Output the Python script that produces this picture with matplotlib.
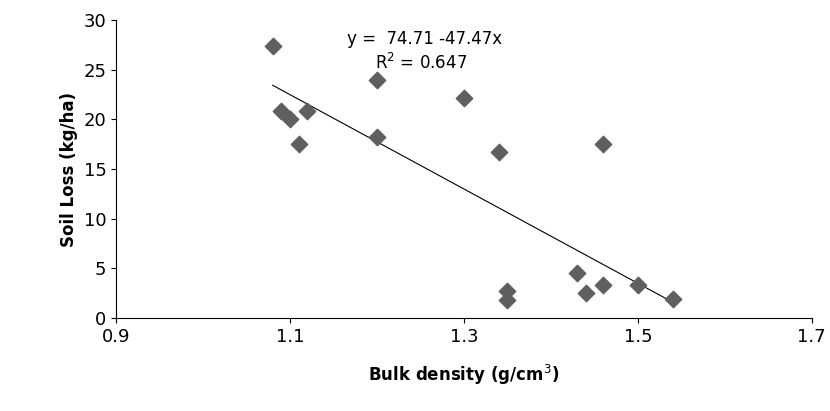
import matplotlib
matplotlib.use("Agg")
import matplotlib.pyplot as plt
import numpy as np

bulk = [1.08, 1.09, 1.10, 1.11, 1.12, 1.20, 1.20, 1.30, 1.34, 1.35, 1.35, 1.43, 1.44, 1.46, 1.46, 1.50, 1.54]
loss = [27.4, 20.9, 20.0, 17.5, 20.9, 24.0, 18.2, 22.2, 16.7, 2.7, 1.8, 4.5, 2.5, 3.3, 17.5, 3.3, 1.9]
intercept, slope = 74.71, -47.47

fig = plt.figure(figsize=(8.3, 4.11), dpi=100)
ax = fig.add_axes([0.14, 0.226, 0.838, 0.725])
ax.scatter(bulk, loss, marker='D', s=70, color='#5f5f5f', zorder=3)
xs = np.array([min(bulk), max(bulk)])
ax.plot(xs, intercept + slope * xs, color='black', lw=0.8)
ax.set_xlim(0.9, 1.7)
ax.set_ylim(0, 30)
ax.set_xticks([0.9, 1.1, 1.3, 1.5, 1.7])
ax.set_yticks(range(0, 31, 5))
for s in ['top', 'right']:
    ax.spines[s].set_visible(False)
ax.tick_params(labelsize=13, direction='out')
ax.set_xlabel('Bulk density (g/cm$^3$)', fontsize=12, fontweight='bold', labelpad=12)
ax.set_ylabel('Soil Loss (kg/ha)', fontsize=12, fontweight='bold')
ax.text(1.165, 27.6, 'y =  74.71 -47.47x', fontsize=12)
ax.text(1.198, 25.1, 'R$^2$ = 0.647', fontsize=12)
fig.savefig('out.png', dpi=100)
